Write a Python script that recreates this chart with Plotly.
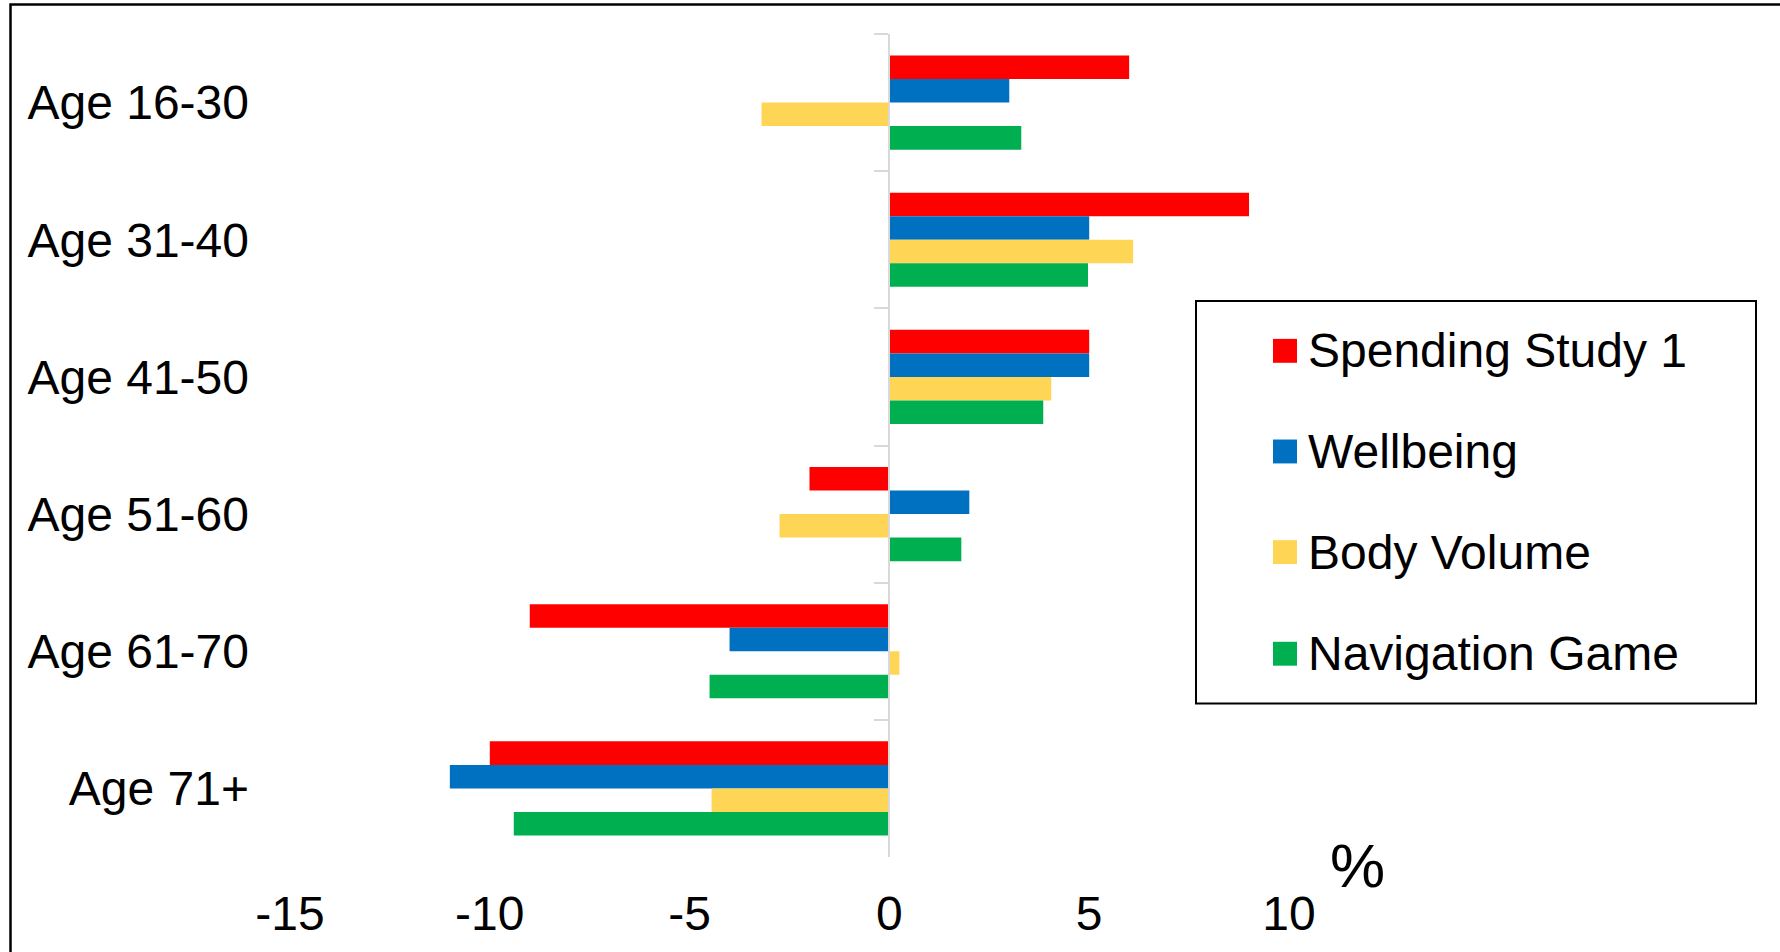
import plotly.graph_objects as go

# Age bands (top to bottom) and the percentage change for each study
age_groups = ["Age 16-30", "Age 31-40", "Age 41-50", "Age 51-60", "Age 61-70", "Age 71+"]
spending_study_1 = [6.0, 9.0, 5.0, -2.0, -9.0, -10.0]
wellbeing = [3.0, 5.0, 5.0, 2.0, -4.0, -11.0]
body_volume = [-3.2, 6.1, 4.05, -2.75, 0.25, -4.45]
navigation_game = [3.3, 4.97, 3.85, 1.8, -4.5, -9.4]

series_names = ["Spending Study 1", "Wellbeing", "Body Volume", "Navigation Game"]
series_values = [spending_study_1, wellbeing, body_volume, navigation_game]
series_colors = ["#FF0000", "#0070C0", "#FFD556", "#00B050"]

x_ticks = [-15, -10, -5, 0, 5, 10]
x_tick_text = ["-15", "-10", "-5", "0", "5", "10"]
x_range = [-15, 10]

FONT = "Liberation Sans, Arial, sans-serif"
FS = 48
W, H = 1780, 952
ML, MR, MT, MB = 290, 491, 34, 92
PW, PH = W - ML - MR, H - MT - MB


def px_x(p):
    """Pixel column -> paper x."""
    return (p - ML) / PW


def px_y(p):
    """Pixel row -> paper y."""
    return 1 - (p - MT) / PH


fig = go.Figure()

for name, vals, color in zip(series_names, series_values, series_colors):
    fig.add_trace(go.Bar(
        name=name, y=age_groups, x=vals, orientation="h",
        marker=dict(color=color, line=dict(width=0)),
        showlegend=False,
    ))

# carrier trace for the zero-position category axis (line + boundary ticks)
fig.add_trace(go.Scatter(
    x=[0] * len(age_groups), y=age_groups, yaxis="y2", mode="none",
    showlegend=False, hoverinfo="skip",
))

zero_pos = (0 - x_range[0]) / (x_range[1] - x_range[0])

shapes = [
    # outer frame (left and top edges visible)
    dict(type="rect", xref="paper", yref="paper",
         x0=px_x(10.5), x1=px_x(W + 20), y0=px_y(4.5), y1=px_y(H + 20),
         line=dict(color="black", width=2.5), fillcolor="rgba(0,0,0,0)", layer="below"),
    # legend frame
    dict(type="rect", xref="paper", yref="paper",
         x0=px_x(1196), x1=px_x(1756), y0=px_y(302), y1=px_y(706),
         line=dict(color="black", width=2), fillcolor="white"),
]
annotations = []

legend_rows = [352, 453, 554, 656]
for name, color, row in zip(series_names, series_colors, legend_rows):
    shapes.append(dict(type="rect", xref="paper", yref="paper",
                       x0=px_x(1273), x1=px_x(1297), y0=px_y(row - 12), y1=px_y(row + 12),
                       line=dict(width=0), fillcolor=color))
    annotations.append(dict(xref="paper", yref="paper", x=px_x(1306), y=px_y(row),
                            xanchor="left", yanchor="middle", showarrow=False,
                            text=name, font=dict(family=FONT, size=FS, color="black")))

annotations.append(dict(xref="paper", yref="paper", x=px_x(1357), y=px_y(869),
                        xanchor="center", yanchor="middle", showarrow=False,
                        text="%", font=dict(family=FONT, size=62, color="black")))

fig.update_layout(
    width=W, height=H,
    margin=dict(l=ML, r=MR, t=MT, b=MB, pad=0),
    paper_bgcolor="white", plot_bgcolor="white",
    barmode="group", bargap=0.314, bargroupgap=0,
    font=dict(family=FONT, size=FS, color="black"),
    xaxis=dict(range=x_range, tickvals=x_ticks, ticktext=x_tick_text,
               showgrid=False, zeroline=False,
               showline=False, ticks="", ticklabelstandoff=24,
               tickfont=dict(family=FONT, size=FS, color="black")),
    yaxis=dict(range=[5.5, -0.5], showgrid=False, zeroline=False, showline=False,
               ticks="", ticklabelstandoff=40,
               tickfont=dict(family=FONT, size=FS, color="black")),
    yaxis2=dict(overlaying="y", anchor="free", position=zero_pos, side="left",
                range=[5.5, -0.5], showgrid=False, zeroline=False,
                showline=True, linecolor="#D9D9D9", linewidth=2,
                ticks="outside", ticklen=14, tickwidth=2, tickcolor="#D9D9D9",
                tickson="boundaries", showticklabels=False),
    shapes=shapes,
    annotations=annotations,
)

fig.write_html("out.html")
